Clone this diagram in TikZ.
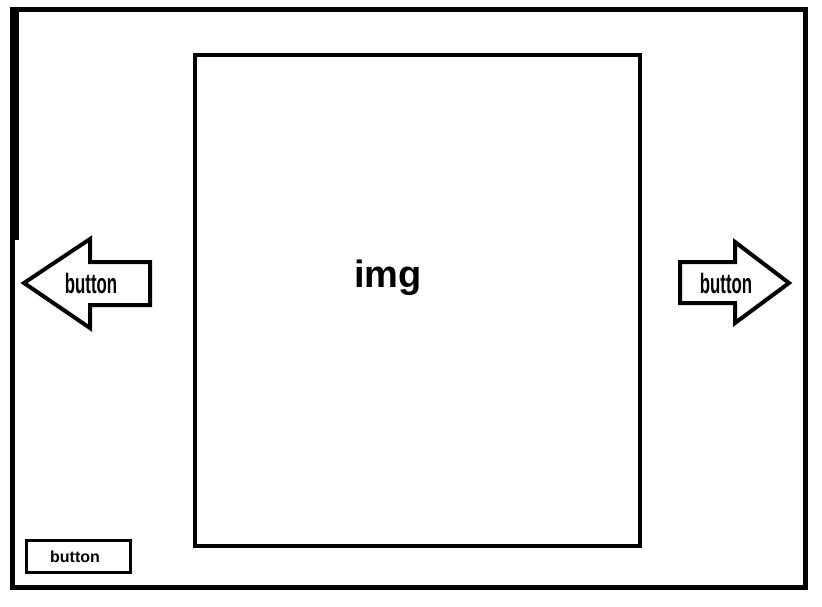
\documentclass[tikz,border=0pt]{standalone}
\usepackage{fontspec}
\setmainfont{Liberation Sans}
\usetikzlibrary{positioning}

\begin{document}
\begin{tikzpicture}[x=1pt, y=-1pt, line join=miter,
    outline/.style={draw=black, line width=4pt},
    caption/.style={inner sep=0pt, anchor=base}]
    \useasboundingbox (0,0) rectangle (822,606);

    % window frame
    \draw [line width=5pt] (12,9) rectangle (805,587);
    \draw [line width=9pt] (14,9) -- (14,240);

    % picture area
    \draw [outline] (195,55) rectangle (640,546);
    \node [caption, font=\fontsize{38}{38}\bfseries\selectfont] (img) at (388,287) {img};

    % previous / next arrows
    \draw [outline] (150,262) -- (90,262) -- (90,239) -- (24,283)
                 -- (90,328) -- (90,305) -- (150,305) -- cycle;
    \node [caption, font=\fontsize{28}{28}\bfseries\selectfont] (prev) at (91,293) {\scalebox{0.6}[1]{button}};

    \draw [outline] (680,262) -- (735,262) -- (735,242) -- (789,283)
                 -- (735,323) -- (735,303) -- (680,303) -- cycle;
    \node [caption, font=\fontsize{28}{28}\bfseries\selectfont] (next) at (726,293) {\scalebox{0.6}[1]{button}};

    % small button
    \draw [line width=3pt] (26,540) rectangle (130,572);
    \node [caption, font=\fontsize{16}{16}\bfseries\selectfont] (small) at (75,562) {button};
\end{tikzpicture}
\end{document}
